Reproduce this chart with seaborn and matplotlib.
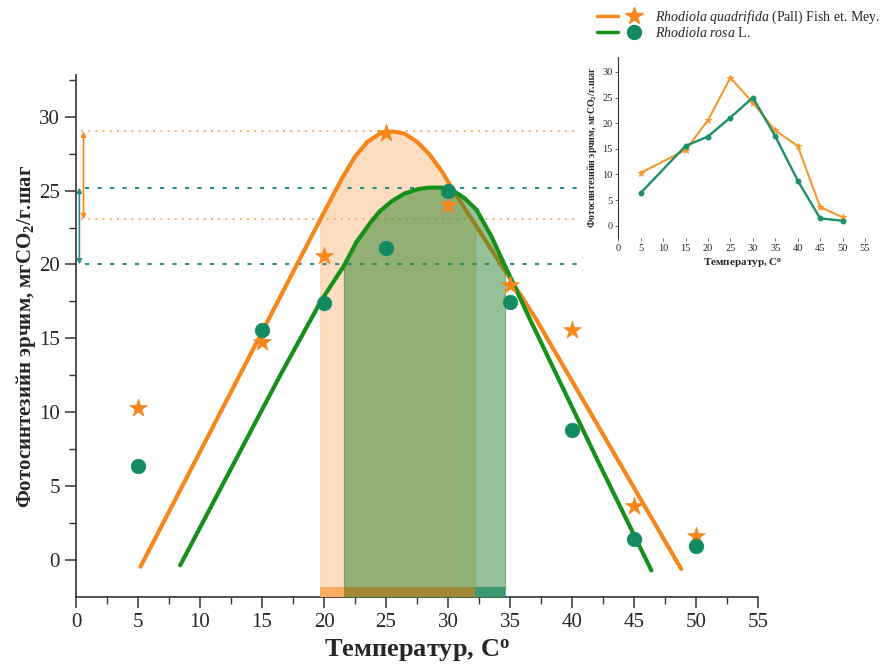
import numpy as np
import pandas as pd
import matplotlib
matplotlib.use("Agg")
import matplotlib.pyplot as plt
import seaborn as sns
from matplotlib.lines import Line2D
from matplotlib.legend_handler import HandlerTuple
from matplotlib.ticker import MultipleLocator

# ---------------- data ----------------
temps = [5, 15, 20, 25, 30, 35, 40, 45, 50]
quadrifida = [10.3, 14.75, 20.57, 28.9, 24.0, 18.6, 15.56, 3.65, 1.62]
rosa = [6.36, 15.56, 17.39, 21.1, 25.0, 17.46, 8.8, 1.42, 0.95]

# fitted curves
quad_fit_x = [5.2, 19.7, 21.5, 22.5, 23.5, 24.5, 25.5, 26.5, 27.5, 28.5, 29.5, 30.4, 31.3, 32.2, 37.1, 48.8]
quad_fit_y = [-0.45, 23.05, 25.9, 27.3, 28.3, 28.85, 29.0, 28.85, 28.3, 27.45, 26.3, 25.05, 23.85, 22.7, 16.3, -0.6]
rosa_fit_x = [8.4, 16.4, 19.8, 21.6, 22.6, 23.8, 24.5, 25.5, 26.5, 27.6, 28.5, 29.5, 30.4, 31.3, 32.3, 33.5, 34.6, 36.6, 42.2, 46.4]
rosa_fit_y = [-0.35, 12.4, 17.6, 19.9, 21.5, 22.9, 23.6, 24.3, 24.8, 25.1, 25.2, 25.2, 25.0, 24.5, 23.7, 21.9, 19.9, 16.3, 6.5, -0.7]

quad_levels = [29.0, 23.05]
rosa_levels = [25.2, 20.0]
quad_range = [19.7, 32.2]
rosa_range = [21.6, 34.6]

x_ticks = list(range(0, 56, 5))
y_ticks = list(range(0, 31, 5))

ORANGE = "#F7861C"
GREEN = "#17901A"
TEAL = "#138A62"
ORANGE_DOT = "#F5A65B"
TEAL_DOT = "#2D8C8C"

# ---------------- style ----------------
sns.set_style("ticks")
plt.rcParams["font.family"] = ["Liberation Serif", "DejaVu Serif"]
plt.rcParams["mathtext.fontset"] = "custom"
plt.rcParams["mathtext.rm"] = "Liberation Serif"
plt.rcParams["mathtext.it"] = "Liberation Serif:italic"
plt.rcParams["mathtext.bf"] = "Liberation Serif:bold"

fig = plt.figure(figsize=(8.8, 6.66), dpi=100)
ax = fig.add_axes([0.0864, 0.104, 0.7750, 0.783])

YMIN, YMAX = -2.48, 32.8
ax.set_xlim(0, 55)
ax.set_ylim(YMIN, YMAX)

df_q = pd.DataFrame({"x": quad_fit_x, "y": quad_fit_y})
df_r = pd.DataFrame({"x": rosa_fit_x, "y": rosa_fit_y})

# orange fill
qx = np.array(quad_fit_x); qy = np.array(quad_fit_y)
m = (qx >= quad_range[0]) & (qx <= quad_range[1])
ax.fill_between(qx[m], qy[m], YMIN, color=ORANGE, alpha=0.28, linewidth=0.8,
                edgecolor=ORANGE, zorder=1)
sns.lineplot(data=df_q, x="x", y="y", sort=False, color=ORANGE, lw=3, ax=ax, zorder=2)

# green fill
rx = np.array(rosa_fit_x); ry = np.array(rosa_fit_y)
m = (rx >= rosa_range[0]) & (rx <= rosa_range[1])
ax.fill_between(rx[m], ry[m], YMIN, color="#2A842E", alpha=0.5, linewidth=0.8,
                edgecolor="#2A842E", zorder=3)
sns.lineplot(data=df_r, x="x", y="y", sort=False, color=GREEN, lw=3, ax=ax, zorder=4)

# bottom strips
STRIP_TOP = -1.83
ax.fill_between([quad_range[0], rosa_range[0]], YMIN, STRIP_TOP, color="#F9AD60", lw=0, zorder=5)
ax.fill_between([rosa_range[0], quad_range[1]], YMIN, STRIP_TOP, color="#A08A38", lw=0, zorder=5)
ax.fill_between([quad_range[1], rosa_range[1]], YMIN, STRIP_TOP, color="#3A9A6E", lw=0, zorder=5)

# dotted reference lines
LINE_END = 40.6
ax.hlines(quad_levels, 0.4, LINE_END, colors=ORANGE_DOT, linestyles=(0, (1, 3)), lw=1.3, zorder=1)
ax.hlines(rosa_levels, 0.7, LINE_END, colors=TEAL_DOT, linestyles=(0, (2, 4)), lw=1.5, zorder=1)

# arrows
ax.annotate("", xy=(0.6, quad_levels[0]), xytext=(0.6, quad_levels[1]),
            arrowprops=dict(arrowstyle="<|-|>", color=ORANGE, lw=1.2, mutation_scale=7,
                            shrinkA=0, shrinkB=0))
ax.annotate("", xy=(0.27, rosa_levels[0]), xytext=(0.27, rosa_levels[1]),
            arrowprops=dict(arrowstyle="<|-|>", color=TEAL_DOT, lw=1.2, mutation_scale=7,
                            shrinkA=0, shrinkB=0))

# data markers
sns.scatterplot(x=temps, y=quadrifida, marker="*", s=180, color=ORANGE, edgecolor=ORANGE,
                linewidth=0.5, ax=ax, zorder=6)
sns.scatterplot(x=temps, y=rosa, marker="o", s=110, color=TEAL, edgecolor=TEAL,
                linewidth=0.5, ax=ax, zorder=6)

ax.set_xticks(x_ticks)
ax.set_yticks(y_ticks)
ax.xaxis.set_minor_locator(MultipleLocator(2.5))
ax.yaxis.set_minor_locator(MultipleLocator(2.5))
ax.tick_params(axis="both", which="major", direction="out", length=8, width=1.1,
               labelsize=15, color="#333333")
ax.tick_params(axis="both", which="minor", direction="out", length=5, width=1.0, color="#333333")
for s in ["top", "right"]:
    ax.spines[s].set_visible(False)
for s in ["left", "bottom"]:
    ax.spines[s].set_color("#333333")
    ax.spines[s].set_linewidth(1.2)

ax.set_xlabel(r"Температур, C$^{\mathbf{o}}$", fontsize=19, fontweight="bold", labelpad=4)
ax.set_ylabel(r"Фотосинтезийн эрчим, мгCO$_{\mathbf{2}}$/г.шаг", fontsize=15,
              fontweight="bold", labelpad=1)

# ---------------- inset ----------------
ax2 = fig.add_axes([0.7025, 0.642, 0.283, 0.273])
df_in = pd.DataFrame({"T": temps, "q": quadrifida, "r": rosa})
sns.lineplot(data=df_in, x="T", y="q", color="#F39A2E", lw=1.5, marker="*", markersize=5,
             markeredgecolor="#F39A2E", ax=ax2)
sns.lineplot(data=df_in, x="T", y="r", color="#1C9068", lw=1.7, marker="o", markersize=3.5,
             markeredgecolor="#1C9068", ax=ax2)
ax2.set_xlim(0, 55.5)
ax2.set_ylim(-2.5, 33)
ax2.set_xticks(x_ticks)
ax2.set_yticks(y_ticks)
ax2.tick_params(axis="both", labelsize=7.5, length=2, width=0.6, pad=2, color="#555555")
ax2.spines["top"].set_visible(False)
ax2.spines["right"].set_visible(False)
ax2.spines["bottom"].set_visible(False)
ax2.spines["left"].set_color("#333333")
ax2.spines["left"].set_linewidth(0.8)
ax2.patch.set_alpha(0)
ax2.set_xlabel(r"Температур, C$^{\mathbf{o}}$", fontsize=8, fontweight="bold", labelpad=2)
ax2.set_ylabel(r"Фотосинтезийн эрчим, мгCO$_{\mathbf{2}}$/г.шаг", fontsize=7,
               fontweight="bold", labelpad=2)

# ---------------- legend ----------------
h1 = (Line2D([], [], color=ORANGE, lw=2.5), Line2D([], [], color=ORANGE, marker="*", ls="", markersize=13))
h2 = (Line2D([], [], color=GREEN, lw=2.5), Line2D([], [], color=TEAL, marker="o", ls="", markersize=10))
fig.legend([h1, h2],
           [r"$\it{Rhodiola}$ $\it{quadrifida}$ (Pall) Fish et. Mey.", r"$\it{Rhodiola}$ $\it{rosa}$ L."],
           handler_map={tuple: HandlerTuple(ndivide=None, pad=0.4)},
           loc="upper left", bbox_to_anchor=(0.664, 1.006), frameon=False, fontsize=10,
           handlelength=3.4, handletextpad=0.8, labelspacing=0.0)

fig.savefig("out.png", dpi=100)
